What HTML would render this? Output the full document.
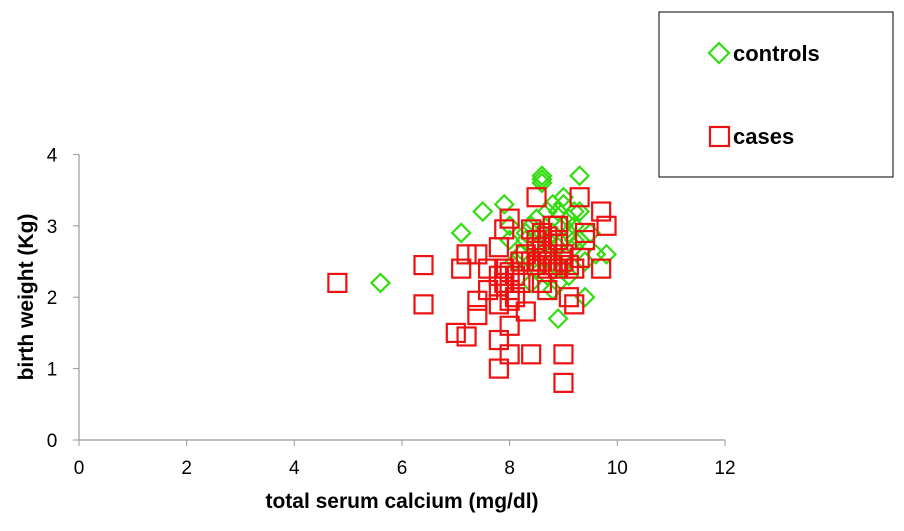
<!DOCTYPE html>
<html><head><meta charset="utf-8"><style>
body{margin:0;background:#fff;}
svg{display:block;font-family:"Liberation Sans",Arial,sans-serif;}
</style></head><body>
<svg id="c" width="904" height="531" viewBox="0 0 904 531">
<g id="axes"></g><g id="marks"></g>
<rect x="659" y="12" width="234" height="165" fill="#fff" stroke="#000" stroke-width="1"/>
<g>
<polygon points="719,43 729,53 719,63 709,53" fill="none" stroke="#33dd11" stroke-width="2.2"/>
<text x="733" y="61" font-size="22" font-weight="bold">controls</text></g>
<g>
<rect x="710" y="127" width="19" height="19" fill="none" stroke="#ee1111" stroke-width="2.2"/>
<text x="733" y="144" font-size="22" font-weight="bold">cases</text></g>
<text x="402" y="508" font-size="21" font-weight="bold" text-anchor="middle">total serum calcium (mg/dl)</text>
<text transform="translate(33,297) rotate(-90)" font-size="21" font-weight="bold" text-anchor="middle">birth weight (Kg)</text>
</svg>
<script>
const xTicks=[0,2,4,6,8,10,12];
const yTicks=[0,1,2,3,4];
const controlsX=[5.6,7.1,7.5,7.9,8.6,8.6,9.3,9.4,8.9,9.8,9.6,8.4,8.5,8.7,8.8,8.9,9.0,9.1,9.2,9.3,8.6,8.8,9.0,9.2,8.3,8.5,8.7,8.9,9.1,9.3,8.4,8.6,8.8,9.0,9.2,8.2,8.5,8.7,9.0,9.4,8.1,8.0,8.3,8.9,9.1,8.6,9.0,8.8,9.2,8.4,8.0,9.5];
const controlsY=[2.2,2.9,3.2,3.3,3.7,3.65,3.7,2.0,1.7,2.6,2.6,3.0,3.1,3.2,3.3,3.2,3.4,3.1,3.0,3.2,2.9,2.9,3.0,2.8,2.8,2.7,2.8,2.7,2.9,2.8,2.5,2.6,2.5,2.6,2.7,2.6,2.4,2.3,2.4,2.5,2.5,3.0,2.9,2.2,2.3,3.6,3.3,2.1,3.2,2.2,2.8,2.9];
const casesX=[4.8,6.4,6.4,7.0,7.2,7.1,7.2,7.4,7.4,7.4,7.6,7.6,7.8,7.8,7.8,7.8,8.0,8.0,8.4,9.0,9.0,8.3,9.1,9.2,8.5,9.3,9.7,9.8,9.7,9.4,9.4,8.0,7.9,8.6,8.7,7.8,7.9,8.0,8.1,8.2,7.9,8.0,8.1,7.8,8.0,8.2,8.4,8.5,8.6,8.7,8.8,8.9,9.0,9.1,9.2,9.3,8.5,8.6,8.7,8.8,8.9,8.4,8.6,8.8,8.3,8.6,8.9,9.0,8.7,8.5];
const casesY=[2.2,2.45,1.9,1.5,1.45,2.4,2.6,2.6,1.95,1.75,2.1,2.4,1.0,1.4,2.7,1.9,1.2,1.6,1.2,1.2,0.8,1.8,2.0,1.9,3.4,3.4,3.2,3.0,2.4,2.9,2.8,3.1,2.95,2.2,2.1,2.3,2.2,2.1,2.0,2.2,2.4,2.35,2.3,2.15,1.95,2.5,2.5,2.45,2.5,2.4,2.45,2.4,2.5,2.45,2.4,2.55,2.8,2.9,2.85,2.75,2.8,2.95,2.7,3.0,2.6,2.5,3.0,2.6,2.6,2.65];
const ns="http://www.w3.org/2000/svg";
const X=v=>79+v*53.83, Y=v=>440-v*71.4;
function mk(t,a,p){const e=document.createElementNS(ns,t);for(const k in a)e.setAttribute(k,a[k]);p.appendChild(e);return e;}
const ax=document.getElementById('axes'), mg=document.getElementById('marks');
const yl=mk('line',{x1:79,y1:Y(4),x2:79,y2:440,stroke:'#999','stroke-width':1.2},ax);


const xl=mk('line',{x1:79,y1:440,x2:X(12),y2:440,stroke:'#999','stroke-width':1.2},ax);


yTicks.forEach(v=>{mk('line',{x1:73,y1:Y(v),x2:79,y2:Y(v),stroke:'#999'},ax);
const t=mk('text',{x:52,y:Y(v)+7,'font-size':19,'text-anchor':'middle'},ax);t.textContent=v;

});
xTicks.forEach(v=>{mk('line',{x1:X(v),y1:440,x2:X(v),y2:446,stroke:'#999'},ax);
const t=mk('text',{x:X(v),y:474,'font-size':19,'text-anchor':'middle'},ax);t.textContent=v;

});
controlsX.forEach((v,i)=>{const cx=X(v),cy=Y(controlsY[i]);
const p=mk('polygon',{points:`${cx},${cy-9} ${cx+9},${cy} ${cx},${cy+9} ${cx-9},${cy}`,fill:'none',stroke:'#33dd11','stroke-width':2.2},mg);

});
casesX.forEach((v,i)=>{const cx=X(v),cy=Y(casesY[i]);
const r=mk('rect',{x:cx-9,y:cy-9,width:18,height:18,fill:'none',stroke:'#ee1111','stroke-width':2.2},mg);

});
</script>
</body></html>
